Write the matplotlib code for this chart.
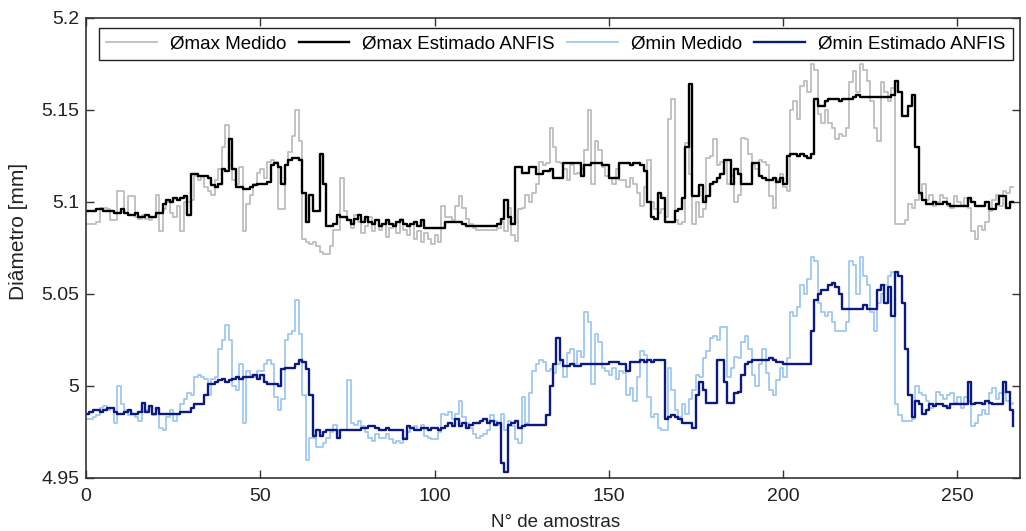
import numpy as np
import matplotlib
matplotlib.use("Agg")
import matplotlib.pyplot as plt
from matplotlib.ticker import FuncFormatter

plt.rcParams['font.family'] = ['Liberation Sans', 'DejaVu Sans']

# --- data ---
dmax_medido = [
    5.088, 5.088, 5.088, 5.089, 5.097, 5.097, 5.096, 5.090, 5.090, 5.106,
    5.106, 5.094, 5.103, 5.103, 5.092, 5.091, 5.093, 5.091, 5.090, 5.092,
    5.104, 5.084, 5.096, 5.100, 5.094, 5.092, 5.098, 5.084, 5.100, 5.100,
    5.101, 5.114, 5.112, 5.114, 5.108, 5.106, 5.104, 5.112, 5.118, 5.130,
    5.142, 5.120, 5.112, 5.110, 5.119, 5.084, 5.099, 5.104, 5.110, 5.116,
    5.118, 5.113, 5.122, 5.123, 5.122, 5.096, 5.096, 5.120, 5.127, 5.136,
    5.150, 5.133, 5.080, 5.078, 5.077, 5.078, 5.076, 5.073, 5.072, 5.072,
    5.076, 5.085, 5.085, 5.113, 5.095, 5.090, 5.086, 5.093, 5.089, 5.083,
    5.087, 5.092, 5.084, 5.090, 5.085, 5.088, 5.081, 5.086, 5.088, 5.083,
    5.091, 5.085, 5.082, 5.088, 5.080, 5.084, 5.078, 5.083, 5.080, 5.077,
    5.082, 5.078, 5.098, 5.092, 5.092, 5.090, 5.098, 5.103, 5.097, 5.091,
    5.088, 5.086, 5.085, 5.085, 5.085, 5.085, 5.085, 5.085, 5.086, 5.089,
    5.084, 5.097, 5.082, 5.079, 5.096, 5.097, 5.104, 5.100, 5.105, 5.110,
    5.122, 5.120, 5.121, 5.140, 5.130, 5.122, 5.121, 5.118, 5.112, 5.120,
    5.115, 5.116, 5.118, 5.128, 5.150, 5.110, 5.133, 5.128, 5.119, 5.114,
    5.113, 5.110, 5.118, 5.112, 5.112, 5.108, 5.113, 5.110, 5.105, 5.098,
    5.108, 5.123, 5.100, 5.096, 5.094, 5.096, 5.092, 5.145, 5.156, 5.090,
    5.088, 5.089, 5.132, 5.115, 5.088, 5.100, 5.092, 5.096, 5.124, 5.125,
    5.134, 5.120, 5.122, 5.123, 5.110, 5.114, 5.100, 5.104, 5.135, 5.134,
    5.126, 5.120, 5.118, 5.123, 5.122, 5.120, 5.103, 5.097, 5.112, 5.115,
    5.108, 5.106, 5.150, 5.155, 5.145, 5.163, 5.166, 5.160, 5.175, 5.172,
    5.148, 5.143, 5.150, 5.143, 5.140, 5.134, 5.137, 5.136, 5.140, 5.165,
    5.171, 5.160, 5.175, 5.172, 5.166, 5.155, 5.140, 5.133, 5.165, 5.160,
    5.155, 5.162, 5.088, 5.088, 5.088, 5.090, 5.099, 5.097, 5.101, 5.104,
    5.110, 5.101, 5.104, 5.098, 5.100, 5.104, 5.102, 5.098, 5.097, 5.103,
    5.100, 5.098, 5.102, 5.097, 5.084, 5.080, 5.087, 5.085, 5.089, 5.095,
    5.101, 5.104, 5.098, 5.106, 5.105, 5.108, 5.108,
]

dmax_anfis = [
    5.095, 5.095, 5.095, 5.096, 5.096, 5.095, 5.095, 5.095, 5.094, 5.094,
    5.096, 5.094, 5.093, 5.093, 5.094, 5.092, 5.092, 5.093, 5.092, 5.092,
    5.094, 5.094, 5.099, 5.101, 5.100, 5.102, 5.101, 5.102, 5.103, 5.093,
    5.115, 5.115, 5.114, 5.114, 5.114, 5.113, 5.109, 5.108, 5.110, 5.118,
    5.117, 5.134, 5.118, 5.108, 5.108, 5.107, 5.107, 5.108, 5.109, 5.110,
    5.110, 5.110, 5.111, 5.120, 5.121, 5.119, 5.110, 5.120, 5.123, 5.124,
    5.124, 5.123, 5.105, 5.089, 5.104, 5.095, 5.095, 5.126, 5.110, 5.087,
    5.087, 5.088, 5.093, 5.092, 5.092, 5.090, 5.088, 5.091, 5.093, 5.089,
    5.092, 5.089, 5.088, 5.090, 5.087, 5.088, 5.090, 5.088, 5.087, 5.089,
    5.090, 5.088, 5.087, 5.088, 5.089, 5.087, 5.090, 5.086, 5.086, 5.086,
    5.086, 5.086, 5.086, 5.089, 5.089, 5.089, 5.089, 5.089, 5.088, 5.087,
    5.087, 5.087, 5.087, 5.087, 5.087, 5.087, 5.087, 5.087, 5.088, 5.091,
    5.101, 5.092, 5.088, 5.119, 5.119, 5.116, 5.116, 5.119, 5.119, 5.115,
    5.115, 5.117, 5.117, 5.118, 5.113, 5.113, 5.113, 5.121, 5.121, 5.121,
    5.121, 5.121, 5.114, 5.120, 5.120, 5.121, 5.121, 5.121, 5.120, 5.120,
    5.113, 5.113, 5.113, 5.121, 5.121, 5.121, 5.120, 5.121, 5.121, 5.120,
    5.117, 5.100, 5.092, 5.091, 5.105, 5.102, 5.089, 5.089, 5.089, 5.095,
    5.096, 5.102, 5.130, 5.164, 5.103, 5.103, 5.109, 5.100, 5.103, 5.110,
    5.111, 5.113, 5.115, 5.123, 5.123, 5.110, 5.118, 5.115, 5.110, 5.110,
    5.110, 5.121, 5.121, 5.114, 5.113, 5.112, 5.112, 5.113, 5.111, 5.113,
    5.110, 5.125, 5.126, 5.126, 5.125, 5.126, 5.125, 5.124, 5.126, 5.156,
    5.152, 5.152, 5.155, 5.156, 5.156, 5.156, 5.155, 5.156, 5.156, 5.156,
    5.157, 5.158, 5.157, 5.157, 5.157, 5.157, 5.157, 5.157, 5.157, 5.157,
    5.157, 5.158, 5.166, 5.160, 5.147, 5.147, 5.152, 5.158, 5.130, 5.105,
    5.101, 5.099, 5.099, 5.100, 5.099, 5.099, 5.100, 5.099, 5.098, 5.098,
    5.098, 5.098, 5.098, 5.102, 5.100, 5.098, 5.098, 5.098, 5.100, 5.096,
    5.096, 5.099, 5.103, 5.103, 5.097, 5.100, 5.100,
]

dmin_medido = [
    4.982, 4.982, 4.983, 4.984, 4.988, 4.989, 4.987, 4.988, 4.980, 5.000,
    4.990, 4.987, 4.984, 4.985, 4.983, 4.981, 4.986, 4.987, 4.989, 4.984,
    4.987, 4.977, 4.976, 4.983, 4.987, 4.981, 4.985, 4.990, 4.993, 4.996,
    4.995, 5.005, 5.006, 5.005, 5.004, 4.995, 5.004, 5.005, 5.020, 5.025,
    5.033, 5.025, 5.000, 4.998, 5.012, 4.980, 5.008, 5.006, 5.005, 5.008,
    5.008, 5.012, 5.014, 5.012, 4.994, 4.987, 4.993, 5.025, 5.028, 5.030,
    5.047, 5.028, 4.995, 4.960, 4.972, 4.972, 4.967, 4.967, 4.969, 4.972,
    4.975, 4.979, 4.976, 4.976, 4.976, 5.003, 4.980, 4.979, 4.981, 4.978,
    4.975, 4.972, 4.970, 4.974, 4.972, 4.972, 4.974, 4.971, 4.969, 4.970,
    4.969, 4.972, 4.975, 4.977, 4.978, 4.976, 4.979, 4.973, 4.972, 4.971,
    4.971, 4.975, 4.985, 4.984, 4.986, 4.982, 4.985, 4.992, 4.983, 4.980,
    4.977, 4.974, 4.972, 4.973, 4.974, 4.976, 4.984, 4.981, 4.979, 4.985,
    4.976, 4.981, 4.978, 4.971, 4.969, 4.994, 4.980, 4.996, 5.008, 5.012,
    5.014, 5.013, 5.008, 5.009, 5.007, 5.012, 5.014, 5.005, 5.018, 5.020,
    5.012, 5.019, 5.016, 5.040, 5.035, 5.001, 5.028, 5.024, 5.010, 5.008,
    5.006, 5.010, 5.004, 5.008, 5.007, 4.995, 4.999, 4.992, 5.005, 5.019,
    5.017, 4.994, 4.983, 4.985, 4.977, 4.976, 4.976, 5.010, 4.998, 4.987,
    4.983, 4.990, 4.985, 4.993, 4.998, 5.006, 5.005, 5.015, 5.019, 5.026,
    5.027, 5.025, 5.032, 5.032, 5.005, 5.010, 5.016, 5.015, 5.024, 5.027,
    5.020, 5.006, 5.000, 5.012, 5.020, 5.007, 4.998, 4.995, 5.003, 5.010,
    5.005, 5.015, 5.040, 5.038, 5.043, 5.055, 5.050, 5.058, 5.070, 5.068,
    5.045, 5.040, 5.038, 5.040, 5.035, 5.030, 5.030, 5.030, 5.035, 5.068,
    5.066, 5.050, 5.070, 5.060, 5.055, 5.040, 5.030, 5.045, 5.050, 5.055,
    5.060, 5.062, 4.990, 4.984, 4.981, 4.981, 4.981, 4.982, 5.000, 4.996,
    4.995, 4.992, 4.988, 4.990, 4.997, 4.995, 4.993, 4.995, 4.996, 4.991,
    4.994, 4.988, 4.994, 4.992, 4.978, 4.980, 4.984, 4.987, 4.985, 4.996,
    4.999, 4.993, 4.996, 4.996, 4.992, 4.990, 4.991,
]

dmin_anfis = [
    4.985, 4.986, 4.987, 4.987, 4.986, 4.987, 4.988, 4.988, 4.986, 4.985,
    4.985, 4.986, 4.987, 4.985, 4.985, 4.986, 4.991, 4.986, 4.989, 4.985,
    4.988, 4.985, 4.985, 4.985, 4.985, 4.985, 4.985, 4.986, 4.986, 4.986,
    4.988, 4.990, 4.990, 4.990, 4.995, 5.001, 5.001, 5.002, 5.003, 5.004,
    5.002, 5.003, 5.004, 5.005, 5.004, 5.005, 5.005, 5.005, 5.006, 5.004,
    5.006, 5.002, 5.001, 5.001, 5.001, 5.000, 5.009, 5.010, 5.010, 5.010,
    5.012, 5.014, 5.013, 5.009, 4.995, 4.973, 4.976, 4.973, 4.975, 4.976,
    4.976, 4.976, 4.972, 4.976, 4.976, 4.976, 4.976, 4.976, 4.976, 4.977,
    4.977, 4.978, 4.978, 4.977, 4.976, 4.976, 4.977, 4.976, 4.976, 4.976,
    4.976, 4.971, 4.978, 4.977, 4.976, 4.976, 4.977, 4.977, 4.976, 4.977,
    4.977, 4.976, 4.977, 4.978, 4.980, 4.978, 4.982, 4.978, 4.980, 4.977,
    4.979, 4.980, 4.980, 4.981, 4.982, 4.980, 4.981, 4.979, 4.980, 4.958,
    4.953, 4.979, 4.980, 4.981, 4.977, 4.978, 4.979, 4.979, 4.979, 4.979,
    4.979, 4.979, 4.984, 5.000, 5.012, 5.026, 5.014, 5.011, 5.011, 5.012,
    5.011, 5.011, 5.012, 5.012, 5.012, 5.012, 5.012, 5.012, 5.012, 5.012,
    5.013, 5.013, 5.013, 5.012, 5.012, 5.008, 5.013, 5.013, 5.013, 5.014,
    5.013, 5.014, 5.013, 5.014, 5.014, 5.014, 4.982, 4.983, 4.984, 4.983,
    4.982, 4.980, 4.980, 4.980, 4.977, 4.995, 5.002, 4.998, 4.991, 4.991,
    4.991, 5.014, 5.014, 5.002, 4.991, 4.991, 4.996, 4.997, 5.006, 5.012,
    5.013, 5.014, 5.014, 5.014, 5.014, 5.014, 5.015, 5.014, 5.013, 5.013,
    5.012, 5.012, 5.012, 5.012, 5.012, 5.012, 5.012, 5.012, 5.030, 5.047,
    5.050, 5.052, 5.052, 5.055, 5.056, 5.054, 5.050, 5.042, 5.042, 5.042,
    5.042, 5.042, 5.042, 5.044, 5.042, 5.042, 5.042, 5.052, 5.055, 5.045,
    5.054, 5.038, 5.062, 5.060, 5.045, 5.020, 4.995, 4.983, 4.992, 4.990,
    4.985, 4.987, 4.990, 4.989, 4.990, 4.990, 4.989, 4.988, 4.990, 4.990,
    4.990, 4.990, 4.990, 5.002, 4.990, 4.991, 4.991, 4.990, 4.992, 4.991,
    4.990, 4.990, 4.990, 5.002, 4.997, 4.987, 4.978,
]

labels = ['Ømax Medido', 'Ømax Estimado ANFIS', 'Ømin Medido', 'Ømin Estimado ANFIS']
colors = ['#bdbdbd', '#000000', '#9fc8ef', '#0c1a80']
widths = [1.3, 1.7, 1.3, 1.7]
series = [dmax_medido, dmax_anfis, dmin_medido, dmin_anfis]

fig = plt.figure(figsize=(10.26, 5.31), dpi=100)
ax = fig.add_axes([86/1026, 1 - 478/531, (1020 - 86)/1026, (478 - 18)/531])

for vals, lab, c, w in zip(series, labels, colors, widths):
    x = np.arange(len(vals))
    ax.plot(x, vals, color=c, lw=w, label=lab, drawstyle='steps-post')

ax.set_xlim(0, 268)
ax.set_ylim(4.95, 5.2)
ax.set_xticks([0, 50, 100, 150, 200, 250])
ax.set_yticks([4.95, 5.0, 5.05, 5.1, 5.15, 5.2])
ax.yaxis.set_major_formatter(FuncFormatter(lambda v, p: f"{v:g}"))
ax.tick_params(direction='in', top=True, right=True, length=6, width=1,
               labelsize=14, color='#333333', labelcolor='#222222', pad=5)
ax.tick_params(axis='x', pad=7)
for sp in ax.spines.values():
    sp.set_color('#333333')
    sp.set_linewidth(1.2)

ax.set_xlabel('N° de amostras', fontsize=13.5, color='#222222')
ax.xaxis.set_label_coords(0.503, -0.078)
ax.set_ylabel('Diâmetro [mm]', fontsize=15, color='#222222')
ax.yaxis.set_label_coords(-0.062, 0.535)

leg = ax.legend(loc='upper center', bbox_to_anchor=(0.503, 0.979), ncol=4,
                prop={'size': 13.5}, frameon=True, fancybox=False, framealpha=1,
                edgecolor='#222222', handlelength=2.7, columnspacing=0.65,
                handletextpad=0.7, borderpad=0.4, borderaxespad=0)
leg.get_frame().set_linewidth(1.0)

fig.savefig('out.png', dpi=100)
